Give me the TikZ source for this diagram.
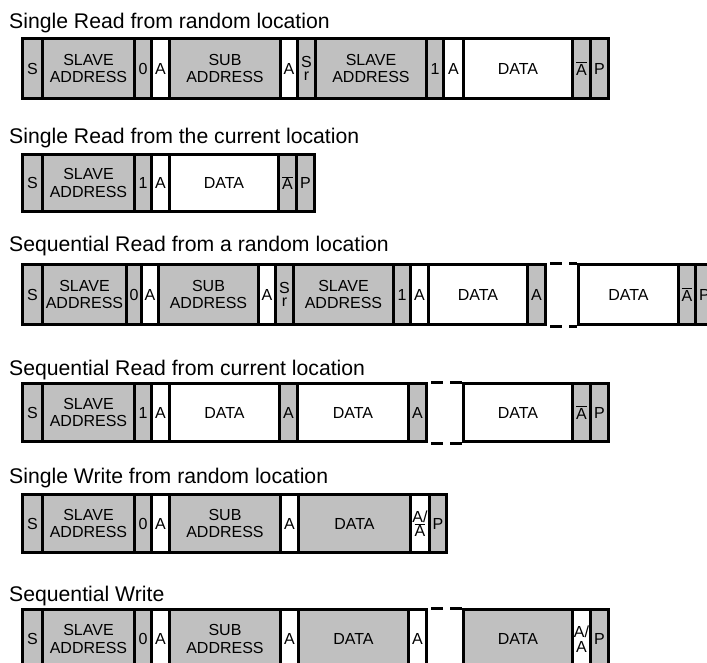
\documentclass[tikz,border=0pt]{standalone}
\usepackage{fontspec}
\setmainfont{Liberation Sans}
\definecolor{cellgray}{RGB}{192,192,192}
\tikzset{
  cellbox/.style={draw=black, line width=3pt, inner sep=0pt, align=center,
    font=\fontsize{16}{17.5}\selectfont, text=black},
  titletext/.style={anchor=base west, inner sep=0pt, font=\fontsize{21.2}{24}\selectfont},
  gapdash/.style={line width=3pt, dash pattern=on 12pt off 7pt, dash phase=16pt}
}
\newcommand{\cell}[5]{%
  \pgfmathsetmacro\cw{#3-#2}\pgfmathsetmacro\ch{\rb-\rt}%
  \node[cellbox, fill=#4, minimum width=\cw pt, minimum height=\ch pt, anchor=north west] (#1) at (#2,\rt) {#5};}
\newcommand{\Abar}{$\overline{\mbox{A}}$}
\newcommand{\Sr}{S\\[-4pt]r}
\begin{document}
\begin{tikzpicture}[x=1pt,y=-1pt]
\useasboundingbox (0,0) rectangle (707,662);
\clip (0,0) rectangle (707,662);
\fill[white] (0,0) rectangle (707,662);

% Row 1
\node[titletext] (t1) at (9,28) {Single Read from random location};
\def\rt{37}\def\rb{97}
\cell{a1}{21}{41}{cellgray}{S}
\cell{a2}{41}{133}{cellgray}{SLAVE\\ADDRESS}
\cell{a3}{133}{150}{cellgray}{0}
\cell{a4}{150}{168}{white}{A}
\cell{a5}{168}{279}{cellgray}{SUB\\ADDRESS}
\cell{a6}{279}{296}{white}{A}
\cell{a7}{296}{314}{cellgray}{\Sr}
\cell{a8}{314}{425}{cellgray}{SLAVE\\ADDRESS}
\cell{a9}{425}{442}{cellgray}{1}
\cell{a10}{442}{462}{white}{A}
\cell{a11}{462}{571}{white}{DATA}
\cell{a12}{571}{589}{cellgray}{\Abar}
\cell{a13}{589}{607}{cellgray}{P}

% Row 2
\node[titletext] (t2) at (9,143) {Single Read from the current location};
\def\rt{153}\def\rb{210}
\cell{b1}{21}{41}{cellgray}{S}
\cell{b2}{41}{133}{cellgray}{SLAVE\\ADDRESS}
\cell{b3}{133}{150}{cellgray}{1}
\cell{b4}{150}{168}{white}{A}
\cell{b5}{168}{277}{white}{DATA}
\cell{b6}{277}{295}{cellgray}{\Abar}
\cell{b7}{295}{313}{cellgray}{P}

% Row 3
\node[titletext] (t3) at (9,251) {Sequential Read from a random location};
\def\rt{263}\def\rb{323}
\cell{c1}{21}{41}{cellgray}{S}
\cell{c2}{41}{125}{cellgray}{SLAVE\\ADDRESS}
\cell{c3}{125}{140}{cellgray}{0}
\cell{c4}{140}{157}{white}{A}
\cell{c5}{157}{257}{cellgray}{SUB\\ADDRESS}
\cell{c6}{257}{274}{white}{A}
\cell{c7}{274}{292}{cellgray}{\Sr}
\cell{c8}{292}{392}{cellgray}{SLAVE\\ADDRESS}
\cell{c9}{392}{409}{cellgray}{1}
\cell{c10}{409}{427}{white}{A}
\cell{c11}{427}{526}{white}{DATA}
\cell{c12}{526}{544}{cellgray}{A}
\cell{c13}{577}{677}{white}{DATA}
\cell{c14}{677}{694}{cellgray}{\Abar}
\cell{c15}{694}{712}{cellgray}{P}
\draw[gapdash] (c12.north east) -- (c13.north west);
\draw[gapdash] (c12.south east) -- (c13.south west);

% Row 4
\node[titletext] (t4) at (9,375) {Sequential Read from current location};
\def\rt{382}\def\rb{440}
\cell{d1}{21}{41}{cellgray}{S}
\cell{d2}{41}{133}{cellgray}{SLAVE\\ADDRESS}
\cell{d3}{133}{150}{cellgray}{1}
\cell{d4}{150}{168}{white}{A}
\cell{d5}{168}{278}{white}{DATA}
\cell{d6}{278}{296}{cellgray}{A}
\cell{d7}{296}{407}{white}{DATA}
\cell{d8}{407}{425}{cellgray}{A}
\cell{d9}{462}{571}{white}{DATA}
\cell{d10}{571}{589}{cellgray}{\Abar}
\cell{d11}{589}{607}{cellgray}{P}
\draw[gapdash] (d8.north east) -- (d9.north west);
\draw[gapdash] (d8.south east) -- (d9.south west);

% Row 5
\node[titletext] (t5) at (9,483) {Single Write from random location};
\def\rt{493}\def\rb{551}
\cell{e1}{21}{41}{cellgray}{S}
\cell{e2}{41}{133}{cellgray}{SLAVE\\ADDRESS}
\cell{e3}{133}{150}{cellgray}{0}
\cell{e4}{150}{168}{white}{A}
\cell{e5}{168}{279}{cellgray}{SUB\\ADDRESS}
\cell{e6}{279}{297}{white}{A}
\cell{e7}{297}{409}{cellgray}{DATA}
\cell{e8}{409}{428}{white}{A/\\[-3pt]\Abar}
\cell{e9}{428}{445}{cellgray}{P}

% Row 6
\node[titletext] (t6) at (9,601) {Sequential Write};
\def\rt{608}\def\rb{667}
\cell{f1}{21}{41}{cellgray}{S}
\cell{f2}{41}{133}{cellgray}{SLAVE\\ADDRESS}
\cell{f3}{133}{150}{cellgray}{0}
\cell{f4}{150}{168}{white}{A}
\cell{f5}{168}{279}{cellgray}{SUB\\ADDRESS}
\cell{f6}{279}{297}{white}{A}
\cell{f7}{297}{407}{cellgray}{DATA}
\cell{f8}{407}{425}{white}{A}
\cell{f9}{462}{571}{cellgray}{DATA}
\cell{f10}{571}{589}{white}{A/\\[-3pt]A}
\cell{f11}{589}{607}{cellgray}{P}
\draw[gapdash] (f8.north east) -- (f9.north west);
\draw[gapdash] (f8.south east) -- (f9.south west);
\end{tikzpicture}
\end{document}
